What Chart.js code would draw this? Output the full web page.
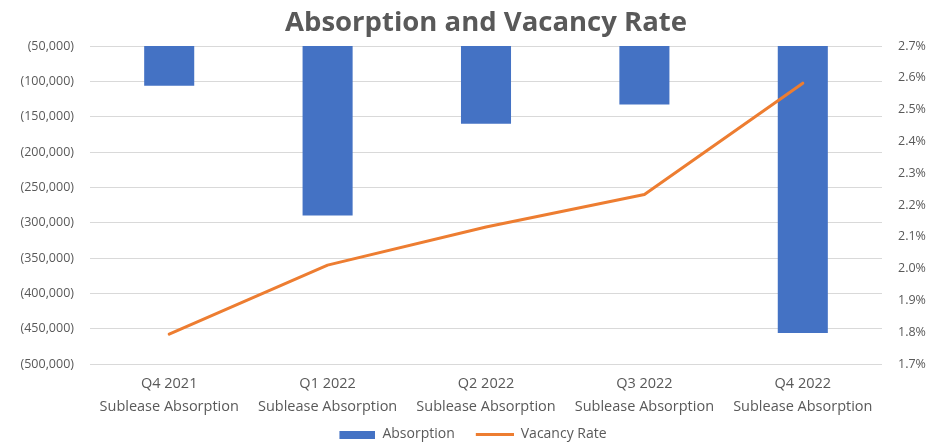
<!DOCTYPE html>
<html>
<head>
<meta charset="utf-8">
<script src="https://cdn.jsdelivr.net/npm/chart.js@4.4.1/dist/chart.umd.min.js"></script>
<style>
html,body{margin:0;padding:0;background:#fff;}
#wrap{width:933px;height:444px;position:relative;}
</style>
</head>
<body>
<div id="wrap"><canvas id="c"></canvas></div>
<script>
const categories = [
  ['Q4 2021', 'Sublease Absorption'],
  ['Q1 2022', 'Sublease Absorption'],
  ['Q2 2022', 'Sublease Absorption'],
  ['Q3 2022', 'Sublease Absorption'],
  ['Q4 2022', 'Sublease Absorption']
];
const absorption = [-106400, -289900, -160000, -132800, -456300];
const vacancyRate = [1.794, 2.011, 2.131, 2.233, 2.583];
const leftTicks = { min: -500000, max: -50000, step: 50000 };
const rightTicks = { min: 1.7, max: 2.7, step: 0.1 };
const chartTitle = 'Absorption and Vacancy Rate';
const seriesNames = ['Absorption', 'Vacancy Rate'];

const BLUE = '#4472C4', ORANGE = '#ED7D31', TXT = '#595959', GRID = '#D9D9D9';
const FONT = "'Open Sans', 'Liberation Sans', sans-serif";

// legend swatch: transparent left margin then coloured mark, right-aligned
function swatch(w, markW, h, color) {
  const c = document.createElement('canvas');
  c.width = w; c.height = h;
  const x = c.getContext('2d');
  x.fillStyle = color; x.fillRect(w - markW, 0, markW, h);
  return c;
}
const SW = 49;
const barSwatch = swatch(SW, 36, 8, BLUE);
const lineSwatch = swatch(SW, 38, 3, ORANGE);

Chart.defaults.font.family = FONT;
Chart.defaults.color = TXT;

new Chart(document.getElementById('c'), {
  data: {
    labels: categories,
    datasets: [
      {
        type: 'bar', label: seriesNames[0], data: absorption, yAxisID: 'y',
        backgroundColor: BLUE, borderWidth: 0, order: 1,
        categoryPercentage: 1, barPercentage: 0.316
      },
      {
        type: 'line', label: seriesNames[1], data: vacancyRate, yAxisID: 'y1',
        borderColor: ORANGE, backgroundColor: ORANGE, borderWidth: 3,
        pointRadius: 0, tension: 0, borderCapStyle: 'round', borderJoinStyle: 'round',
        order: 0, clip: false
      }
    ]
  },
  options: {
    responsive: true, maintainAspectRatio: false, animation: false,
    layout: { padding: { left: 0, right: 0, top: 0, bottom: -7.5 } },
    plugins: {
      title: {
        display: true, text: chartTitle, color: TXT, fullSize: false,
        font: { size: 27.5, weight: 'bold', family: FONT, lineHeight: 1.2 },
        padding: { top: 7, bottom: 6 }
      },
      legend: {
        position: 'bottom',
        labels: {
          usePointStyle: true, pointStyleWidth: SW, padding: 10,
          font: { size: 14, family: FONT }, color: TXT,
          generateLabels: (chart) => chart.data.datasets.map((d, i) => ({
            text: d.label, pointStyle: i === 0 ? barSwatch : lineSwatch,
            fillStyle: i === 0 ? BLUE : ORANGE, strokeStyle: 'transparent',
            lineWidth: 0, hidden: false, datasetIndex: i, fontColor: TXT
          }))
        }
      },
      tooltip: { enabled: false }
    },
    scales: {
      x: {
        grid: { display: false, drawTicks: false },
        border: { display: false },
        ticks: { padding: 9, font: { size: 14.5, lineHeight: 1.55 }, color: TXT, maxRotation: 0, autoSkip: false },
        afterFit: (s) => { s.height = 53.5; }
      },
      y: {
        position: 'left', min: leftTicks.min, max: leftTicks.max,
        grid: { color: GRID, lineWidth: 1, drawTicks: false },
        border: { display: false },
        ticks: {
          stepSize: leftTicks.step, padding: 16, font: { size: 12.5 }, color: TXT,
          callback: (v) => '(' + Math.abs(v).toLocaleString('en-US') + ')'
        },
        afterFit: (s) => { s.width = 90; }
      },
      y1: {
        position: 'right', min: rightTicks.min, max: rightTicks.max,
        grid: { display: false, drawTicks: false },
        border: { display: false },
        ticks: {
          stepSize: rightTicks.step, padding: 16, font: { size: 12.5 }, color: TXT,
          callback: (v) => v.toFixed(1) + '%'
        },
        afterFit: (s) => { s.width = 51; }
      }
    }
  }
});
</script>
</body>
</html>
